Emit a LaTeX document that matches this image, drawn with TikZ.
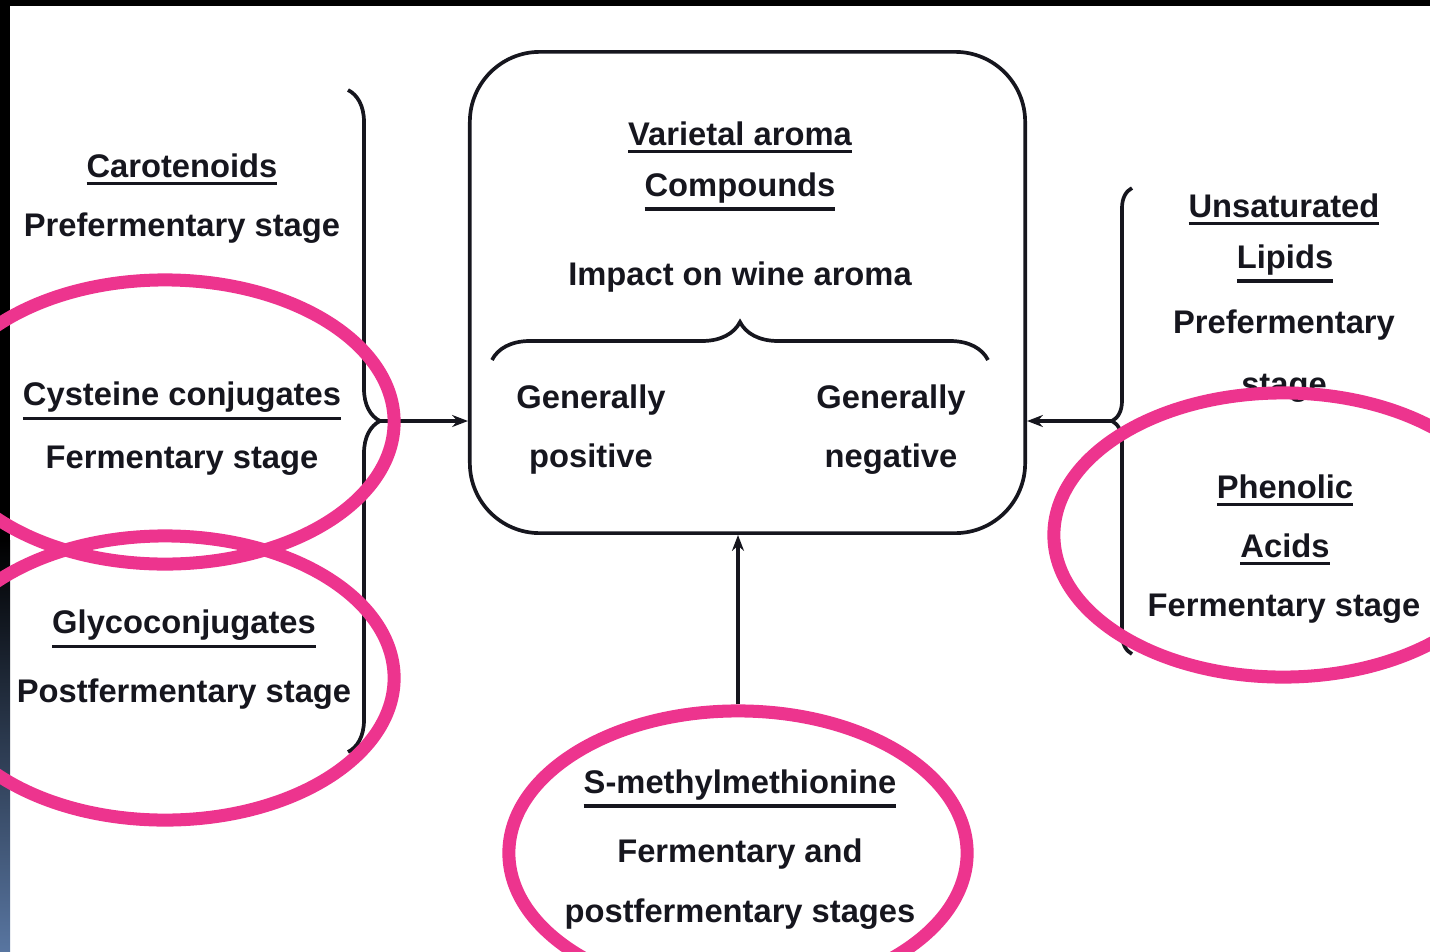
\documentclass[tikz,border=0pt]{standalone}
\usepackage{fontspec}
\setmainfont{Liberation Sans}
\usepackage{tikz}
\usetikzlibrary{decorations.pathreplacing, arrows.meta, shapes.geometric, positioning}
\definecolor{inkdark}{RGB}{22,22,30}
\definecolor{markpink}{RGB}{237,52,142}
\definecolor{slateblue}{RGB}{88,117,160}
\newcommand{\ulined}[1]{\setbox0\hbox{#1}\vtop{\copy0\kern1.3pt\hrule height1pt width\wd0}}
\tikzset{
    lbl/.style={
        text=inkdark, font=\bfseries\fontsize{9.3}{11}\selectfont, inner sep=0pt, anchor=base
    },
    corebox/.style={
        draw=inkdark, line width=1.05pt, rounded corners=0.7cm,
        minimum width=5.55cm, minimum height=4.81cm
    },
    bracepath/.style={
        draw=inkdark, line width=1.05pt, decorate, decoration={brace, amplitude=#1}
    },
    arr/.style={
        draw=inkdark, line width=0.9pt, -{Stealth[length=4.5pt, width=3.4pt]}
    },
    hilite/.style={
        ellipse, draw=markpink, line width=3.7pt,
        minimum width=4.58cm, minimum height=2.84cm, inner sep=0pt
    }
}

\begin{document}
\begin{tikzpicture}[x=0.01cm, y=-0.01cm]
    \useasboundingbox (0,0) rectangle (1430,951);
    \clip (0,0) rectangle (1430,951);

    % --- frame strips ---
    \fill[black] (0,0) rectangle (1430,6);
    \fill[black] (0,0) rectangle (10,540);
    \shade[top color=black, bottom color=slateblue] (0,540) rectangle (10,951);

    % --- central box ---
    \node[corebox] (core) at (747.5,292.5) {};
    \node[lbl] (vara) at (740,145) {\ulined{Varietal aroma}};
    \node[lbl] (comp) at (740,196) {\ulined{Compounds}};
    \node[lbl] (impact) at (740,285) {Impact on wine aroma};
    \coordinate (cbl) at (492,360);
    \coordinate (cbr) at (988,360);
    \draw[bracepath=0.38cm] (cbl) -- (cbr);
    \node[lbl] (genpos) at (591,408) {Generally};
    \node[lbl] (pos) at (591,467) {positive};
    \node[lbl] (genneg) at (891,408) {Generally};
    \node[lbl] (neg) at (891,467) {negative};

    % --- left group ---
    \node[lbl] (caro) at (182,177) {\ulined{Carotenoids}};
    \node[lbl] (carost) at (182,236) {Prefermentary stage};
    \node[lbl] (cyst) at (182,405) {\ulined{Cysteine conjugates}};
    \node[lbl] (cysst) at (182,468) {Fermentary stage};
    \node[lbl] (glyc) at (184,633) {\ulined{Glycoconjugates}};
    \node[lbl] (glycst) at (184,702) {Postfermentary stage};
    \coordinate (lbtop) at (348,90);
    \coordinate (lbbot) at (348,752);
    \draw[bracepath=0.32cm] (lbtop) -- (lbbot);
    \coordinate (ltip) at (380,421);
    \draw[arr] (ltip) -- (ltip -| core.west);

    % --- right group ---
    \node[lbl] (unsat) at (1284,217) {\ulined{Unsaturated}};
    \node[lbl] (lipid) at (1285,268) {\ulined{Lipids}};
    \node[lbl] (lipst) at (1284,333) {Prefermentary};
    \node[lbl] (lipst2) at (1284,395) {stage};
    \node[lbl] (phen) at (1285,498) {\ulined{Phenolic}};
    \node[lbl] (acid) at (1285,557) {\ulined{Acids}};
    \node[lbl] (phenst) at (1284,616) {Fermentary stage};
    \coordinate (rbbot) at (1132,654);
    \coordinate (rbtop) at (1132,188);
    \draw[bracepath=0.2cm] (rbbot) -- (rbtop);
    \coordinate (rtip) at (1112,421);
    \draw[arr] (rtip) -- (rtip -| core.east);

    % --- bottom group ---
    \node[lbl] (smm) at (740,793) {\ulined{S-methylmethionine}};
    \node[lbl] (smmst) at (740,862) {Fermentary and};
    \node[lbl] (smmst2) at (740,922) {postfermentary stages};

    % --- pink highlights ---
    \node[hilite] (hlcys) at (165,422) {};
    \node[hilite] (hlgly) at (165,678) {};
    \node[hilite] (hlphen) at (1283,535) {};
    \node[hilite] (hlsmm) at (738,853) {};
    \draw[arr] (hlsmm.north) -- (hlsmm.north |- core.south);
\end{tikzpicture}
\end{document}
